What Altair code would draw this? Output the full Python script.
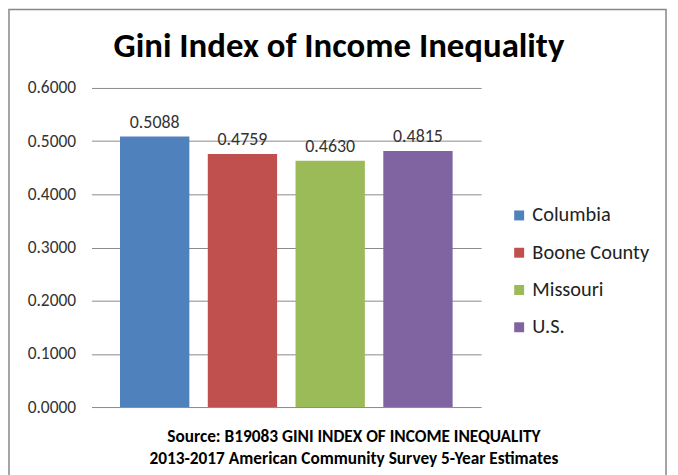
import altair as alt
import pandas as pd

categories = ["Columbia", "Boone County", "Missouri", "U.S."]
values = [0.5088, 0.4759, 0.4630, 0.4815]
colors = ["#4F81BD", "#C0504D", "#9BBB59", "#8064A2"]
y_ticks = [0.0, 0.1, 0.2, 0.3, 0.4, 0.5, 0.6]
title_text = "Gini Index of Income Inequality"
footer_lines = ["Source: B19083 GINI INDEX OF INCOME INEQUALITY",
                "2013-2017 American Community Survey 5-Year Estimates"]

FONT = "Carlito, 'Liberation Sans Narrow', 'DejaVu Sans Condensed', 'Open Sans', sans-serif"

df = pd.DataFrame({"cat": categories, "val": values})
one = pd.DataFrame({"t": [title_text]})
foot = pd.DataFrame({"t": ["\n".join(footer_lines)]})

color = alt.Color("cat:N", scale=alt.Scale(domain=categories, range=colors),
                  legend=alt.Legend(title=None, orient="none", legendX=420, legendY=118,
                                    symbolType="square", symbolSize=100, symbolStrokeWidth=0,
                                    labelFontSize=20.5, labelFont=FONT, labelColor="#222",
                                    rowPadding=16.5, labelOffset=3))

x = alt.X("cat:N", sort=categories, axis=None,
          scale=alt.Scale(paddingInner=0.21, paddingOuter=0.325))
y = alt.Y("val:Q", scale=alt.Scale(domain=[0, 0.6]),
          axis=alt.Axis(title=None, values=y_ticks, format=".4f", domain=False, ticks=False,
                        labelPadding=16, labelFontSize=17.5, labelFont=FONT, labelColor="#333",
                        gridColor="#8a8a8a", gridWidth=1))

bars = alt.Chart(df).mark_bar().encode(x=x, y=y, color=color)
labels = alt.Chart(df).mark_text(dy=-14, fontSize=18, font=FONT, color="#333").encode(
    x=x, y=y, text=alt.Text("val:Q", format=".4f"))

title = alt.Chart(one).mark_text(fontSize=35, fontWeight="bold", font=FONT, color="#000",
                                 baseline="middle").encode(
    x=alt.value(249), y=alt.value(-42), text="t:N")
footer = alt.Chart(foot).mark_text(fontSize=17.4, fontWeight="bold", font=FONT, color="#000",
                                   baseline="middle", lineBreak="\n", lineHeight=22).encode(
    x=alt.value(264), y=alt.value(351), text="t:N")
frame = alt.Chart(one).mark_rect(fill=None, stroke="#878787", strokeWidth=1.5).encode(
    x=alt.value(-83), x2=alt.value(578), y=alt.value(-79), y2=alt.value(420))

chart = alt.layer(frame, bars, labels, title, footer).properties(
    width=392, height=321,
    background="white",
    autosize=alt.AutoSizeParams(type="none"),
    padding={"left": 84, "top": 79, "right": 190, "bottom": 80},
).configure_view(strokeWidth=0, stroke="transparent")

chart.save("out.html", embed_options={"renderer": "svg", "actions": False})
